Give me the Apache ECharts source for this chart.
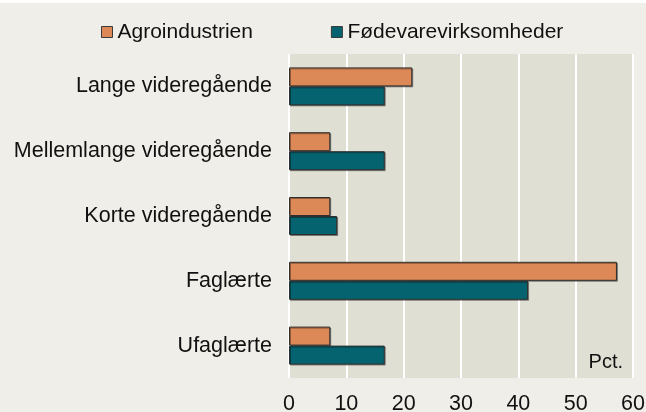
<!DOCTYPE html>
<html>
<head>
<meta charset="utf-8">
<script src="https://cdn.jsdelivr.net/npm/echarts@6/dist/echarts.min.js"></script>
<style>
    html, body { margin: 0; padding: 0; background: #ffffff; }
    #chart { width: 646px; height: 412px; }
</style>
</head>
<body>
<div id="chart"></div>
<script>
// Data
const categories = ["Lange videregående", "Mellemlange videregående", "Korte videregående", "Faglærte", "Ufaglærte"];
const seriesNames = ["Agroindustrien", "Fødevarevirksomheder"];
const agro = [21.5, 7.2, 7.2, 57.2, 7.2];
const foedevare = [16.7, 16.7, 8.4, 41.7, 16.7];
const unitLabel = "Pct.";

const chart = echarts.init(document.getElementById("chart"));

const barStyle = function(color) {
    return {
        color: color,
        borderColor: "#2e2e2e",
        borderWidth: 1,
        shadowColor: "rgba(0, 0, 0, 0.35)",
        shadowOffsetX: 1,
        shadowOffsetY: 1
    };
};

const option = {
    backgroundColor: "#efeee8",
    textStyle: { fontFamily: "Liberation Sans, Arial, sans-serif" },
    animation: false,
    graphic: [{
        type: "rect",
        left: 0,
        top: 0,
        shape: { width: 646, height: 3 },
        style: { fill: "#ffffff" }
    }, {
        type: "text",
        right: 23,
        top: 352,
        z: 10,
        style: {
            text: unitLabel,
            fontSize: 20,
            fill: "#111111",
            fontFamily: "Liberation Sans, Arial, sans-serif"
        }
    }],
    legend: {
        left: 96,
        top: 15,
        icon: "rect",
        itemWidth: 11,
        itemHeight: 11,
        itemGap: 78,
        itemStyle: { borderColor: "#3a3a3a", borderWidth: 1 },
        textStyle: { fontSize: 21, color: "#111111", lineHeight: 24 },
        data: seriesNames
    },
    grid: {
        left: 289,
        right: 13,
        top: 54,
        bottom: 34,
        containLabel: false,
        outerBoundsMode: "none",
        show: true,
        backgroundColor: "#e0dfd4",
        borderWidth: 0
    },
    xAxis: {
        type: "value",
        min: 0,
        max: 60,
        interval: 10,
        axisLine: { show: false },
        axisTick: { show: false },
        axisLabel: { fontSize: 21.5, color: "#111111", margin: 15 },
        splitLine: { show: true, lineStyle: { color: "#ffffff", width: 2 } }
    },
    yAxis: {
        type: "category",
        inverse: true,
        data: categories,
        axisLine: { show: false },
        axisTick: { show: false },
        axisLabel: { fontSize: 21.5, color: "#111111", margin: 17 },
        splitLine: { show: false }
    },
    series: [{
        name: seriesNames[0],
        type: "bar",
        data: agro,
        barWidth: 19,
        barGap: "0%",
        itemStyle: barStyle("#dc8857")
    }, {
        name: seriesNames[1],
        type: "bar",
        data: foedevare,
        barWidth: 19,
        barGap: "0%",
        itemStyle: barStyle("#05636f")
    }]
};
chart.setOption(option);
</script>
</body>
</html>
